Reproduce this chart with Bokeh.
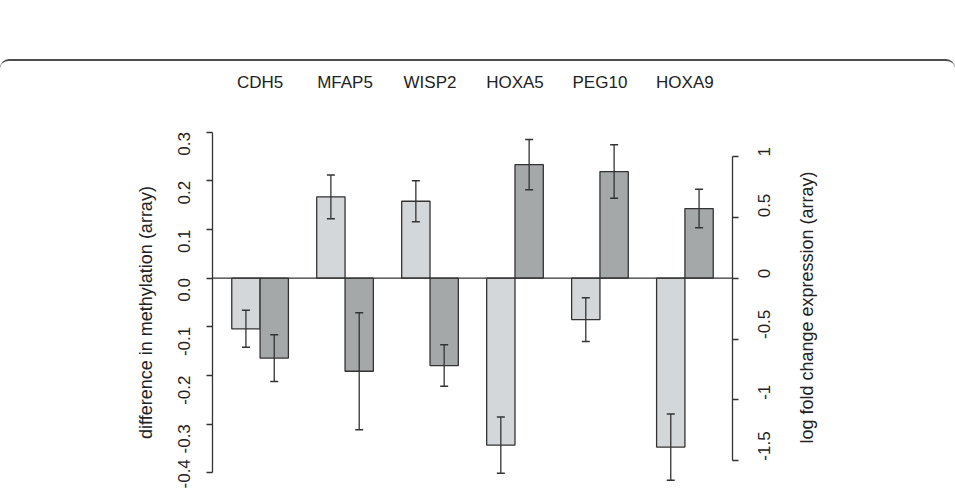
import math
import numpy as np
from bokeh.plotting import figure
from bokeh.layouts import column, row
from bokeh.models import (Range1d, LinearAxis, FixedTicker, PrintfTickFormatter,
                          NumeralTickFormatter, Span, Spacer)
from bokeh.embed import file_html
from bokeh.resources import INLINE

# ---- data ----
genes = ["CDH5", "MFAP5", "WISP2", "HOXA5", "PEG10", "HOXA9"]
methylation = [-0.104, 0.167, 0.158, -0.343, -0.085, -0.347]       # difference in methylation (array)
methylation_err = [0.038, 0.045, 0.042, 0.058, 0.045, 0.068]
expression = [-0.657, -0.765, -0.718, 0.933, 0.876, 0.572]          # log fold change expression (array)
expression_err = [0.193, 0.480, 0.170, 0.206, 0.220, 0.158]
left_ticks = [-0.4, -0.3, -0.2, -0.1, 0.0, 0.1, 0.2, 0.3]
right_ticks = [-1.5, -1.0, -0.5, 0.0, 0.5, 1.0]
left_title = "difference in methylation (array)"
right_title = "log fold change expression (array)"

FONT = "Liberation Sans"
FS = "17px"
FS_T = "18px"
TXT = "#222222"
LINE = "#333333"
LIGHT = "#d4d7d9"
DARK = "#a4a8a9"

n = len(genes)
grp = np.arange(n) * 3.0
x_light = grp + 1.5
x_dark = grp + 2.5
x_label = grp + 2.0

# R barplot style extents (4% expansion)
xmin, xmax = 1.0, 3.0 * n
xpad = 0.04 * (xmax - xmin)
ymin, ymax = -0.4, 0.3
ypad = 0.04 * (ymax - ymin)
scale = 4.0  # right axis / left axis

TOP_GAP = 59
BORDER = 2
FIG_H = 488 - TOP_GAP - BORDER
BT, BB = 118 - TOP_GAP - BORDER, 2   # top / bottom borders of every plot
WL = 160            # width of left title strip
FRAME_L = 212       # page x of plot region left edge
FRAME_W = 520
RB = 56             # right border of main plot
WP = (FRAME_L - WL) + FRAME_W + RB
WR = 955 - WL - WP
D = 8               # frame edge -> title centre


def title_strip(text, width, centre_x, shift):
    f = figure(width=width, height=FIG_H - shift, output_backend="svg",
               toolbar_location=None, x_axis_location=None, y_axis_location="left",
               x_range=Range1d(0, 1), y_range=Range1d(0, 1),
               min_border_left=centre_x + D, min_border_right=0,
               min_border_top=BT, min_border_bottom=BB)
    f.grid.visible = False
    f.outline_line_color = None
    ax = f.yaxis[0]
    ax.ticker = FixedTicker(ticks=[])
    ax.axis_line_color = None
    ax.major_tick_line_color = None
    ax.minor_tick_line_color = None
    ax.axis_label = text
    ax.axis_label_standoff = 0
    ax.axis_label_text_font = FONT
    ax.axis_label_text_font_size = FS_T
    ax.axis_label_text_font_style = "normal"
    ax.axis_label_text_color = TXT
    return column(Spacer(width=width, height=shift), f, spacing=0)


p = figure(width=WP, height=FIG_H, output_backend="svg", toolbar_location=None,
           x_range=Range1d(xmin - xpad, xmax + xpad),
           y_range=Range1d(ymin - ypad, ymax + ypad),
           x_axis_location="above",
           min_border_left=FRAME_L - WL, min_border_right=RB,
           min_border_top=BT, min_border_bottom=BB)
p.extra_y_ranges = {"expr": Range1d((ymin - ypad) * scale, (ymax + ypad) * scale)}
p.grid.visible = False
p.outline_line_color = None
p.background_fill_color = "white"
p.border_fill_color = "white"

# top axis with gene names
xa = p.xaxis[0]
xa.ticker = FixedTicker(ticks=list(x_label))
xa.major_label_overrides = {float(x): g for x, g in zip(x_label, genes)}
xa.axis_line_color = None
xa.major_tick_line_color = None
xa.minor_tick_line_color = None
xa.major_label_standoff = 21
xa.major_label_text_font = FONT
xa.major_label_text_font_size = FS
xa.major_label_text_color = TXT

# left axis
ya = p.yaxis[0]
ya.ticker = FixedTicker(ticks=left_ticks)
ya.formatter = PrintfTickFormatter(format="%.1f")
ya.bounds = (ymin, ymax)
ya.major_label_orientation = math.pi / 2

ra = LinearAxis(y_range_name="expr",
                ticker=FixedTicker(ticks=right_ticks),
                formatter=NumeralTickFormatter(format="0.[0]"),
                bounds=(right_ticks[0], right_ticks[-1]))
ra.major_label_orientation = math.pi / 2
p.add_layout(ra, "right")

for ax in [ya, ra]:
    ax.axis_line_color = LINE
    ax.axis_line_width = 1.3
    ax.major_tick_line_color = LINE
    ax.major_tick_line_width = 1.3
    ax.major_tick_out = 6
    ax.major_tick_in = 0
    ax.minor_tick_line_color = None
    ax.major_label_text_font = FONT
    ax.major_label_text_font_size = FS
    ax.major_label_text_color = TXT
ya.major_label_standoff = 22
ra.major_label_standoff = 26

# zero line
p.add_layout(Span(location=0, dimension="width", line_color=LINE, line_width=1.3))

# bars
p.vbar(x=x_light, top=methylation, bottom=0, width=1.0,
       fill_color=LIGHT, line_color=LINE, line_width=1.3)
p.vbar(x=x_dark, top=expression, bottom=0, width=1.0,
       fill_color=DARK, line_color=LINE, line_width=1.3, y_range_name="expr")

# error bars
m = np.array(methylation); me = np.array(methylation_err)
e = np.array(expression); ee = np.array(expression_err)
p.segment(x0=x_light, x1=x_light, y0=m - me, y1=m + me, line_color=LINE, line_width=1.3)
p.scatter(x=np.concatenate([x_light, x_light]), y=np.concatenate([m - me, m + me]),
          marker="dash", size=8, line_color=LINE, line_width=1.5)
p.segment(x0=x_dark, x1=x_dark, y0=e - ee, y1=e + ee, line_color=LINE, line_width=1.3,
          y_range_name="expr")
p.scatter(x=np.concatenate([x_dark, x_dark]), y=np.concatenate([e - ee, e + ee]),
          marker="dash", size=8, line_color=LINE, line_width=1.5, y_range_name="expr")

# axis titles, both reading bottom-to-top as in the reference
fl = title_strip(left_title, WL, 147, 20)
fr = title_strip(right_title, WR, 808 - (WL + WP), 10)

body = row(fl, p, fr, spacing=0,
           styles={"border-top": f"{BORDER}px solid #4d4d4d",
                   "border-radius": "9px 9px 0 0"})
layout = column(Spacer(width=955, height=TOP_GAP), body, spacing=0)

open("out.html", "w").write(file_html(layout, INLINE))
